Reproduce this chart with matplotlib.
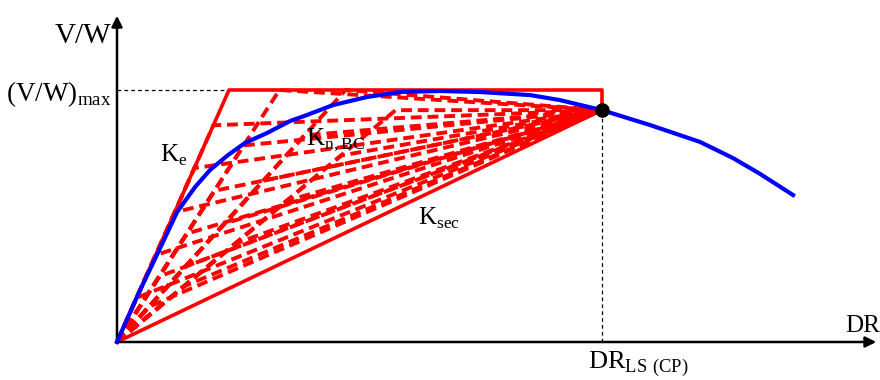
import numpy as np
import matplotlib.pyplot as plt

plt.rcParams["font.family"] = ["Liberation Serif", "DejaVu Serif"]
plt.rcParams["mathtext.fontset"] = "custom"
plt.rcParams["mathtext.rm"] = "Liberation Serif"

# normalised units: DR_LS(CP) = 1, (V/W)max = 1
dr_cp = 1.0
vw_cp = 0.92
vw_max = 1.0
dr_ke_max = 0.231  # where K_e reaches (V/W)max

# capacity curve (blue)
curve_dr = [0.0, 0.043, 0.085, 0.124, 0.161, 0.192, 0.229, 0.264, 0.309, 0.357,
            0.392, 0.445, 0.515, 0.583, 0.666, 0.748, 0.851, 0.913, 1.0,
            1.099, 1.202, 1.270, 1.326, 1.394]
curve_vw = [0.0, 0.187, 0.357, 0.516, 0.615, 0.683, 0.742, 0.790, 0.829, 0.877,
            0.901, 0.940, 0.972, 0.992, 0.996, 0.992, 0.980, 0.960, 0.920,
            0.861, 0.794, 0.730, 0.667, 0.583]

# trial bilinear backbones K_n,BC: initial stiffness / K_e and knee levels for each
stiff_ratio = [1.0, 0.69, 0.49, 0.37]
knees_1 = [0.175, 0.345, 0.515, 0.69, 0.86]
knees_2 = [0.26, 0.43, 0.60, 0.78, 1.0]
knees_3 = [0.14, 0.30, 0.47, 0.64, 0.82, 1.0]
knees_4 = [0.22, 0.39, 0.56, 0.74, 0.92]
knee_sets = [knees_1, knees_2, knees_3, knees_4]

fig = plt.figure(figsize=(8.8, 3.8), dpi=100)
ax = fig.add_axes([0, 0, 1, 1])
ax.set_xlim(-117 / 485, 763 / 485)
ax.set_ylim(-38 / 252, 342 / 252)
ax.axis("off")

red = "#ff0000"
ke = vw_max / dr_ke_max
for r, knees in zip(stiff_ratio, knee_sets):
    k = ke * r
    for vy in knees:
        dy = vy / k
        ax.plot([0, dy, dr_cp], [0, vy, vw_cp], color=red, lw=2.8,
                dashes=(2.8, 1.5), solid_capstyle="butt", zorder=2)

# bounding envelope
ax.plot([0, dr_ke_max, dr_cp, dr_cp, 0], [0, vw_max, vw_max, vw_cp, 0],
        color=red, lw=2.6, zorder=3)

ax.plot(curve_dr, curve_vw, color="#0000ff", lw=3.0, zorder=4)
ax.plot([dr_cp], [vw_cp], "o", color="black", ms=9.5, zorder=5)

# guides
ax.plot([0, dr_ke_max], [vw_max, vw_max], color="black", lw=0.9, dashes=(3, 2.5))
ax.plot([dr_cp, dr_cp], [0, vw_cp], color="black", lw=0.9, dashes=(3, 2.5))

# axes with arrows
ax.annotate("", xy=(762 / 485, 0), xytext=(-0.003, 0),
            arrowprops=dict(arrowstyle="-|>", color="black", lw=1.8, mutation_scale=16))
ax.annotate("", xy=(0, 329 / 252), xytext=(0, -0.004),
            arrowprops=dict(arrowstyle="-|>", color="black", lw=1.8, mutation_scale=16))

fs = 18
ax.text(-0.012, 1.215, "V/W", fontsize=21, ha="right", va="center")
ax.text(-0.012, 0.985, r"(V/W)$_{\mathrm{max}}$", fontsize=19.5, ha="right", va="center")
ax.text(1.574, 0.065, "DR", fontsize=fs, ha="right", va="center")
ax.text(1.075, -0.09, r"DR$_{\mathrm{LS\ (CP)}}$", fontsize=19, ha="center", va="center")
ax.text(0.088, 0.74, r"K$_{\mathrm{e}}$", fontsize=fs, ha="left", va="center")
ax.text(0.39, 0.80, r"K$_{\mathrm{n,BC}}$", fontsize=fs, ha="left", va="center")
ax.text(0.62, 0.49, r"K$_{\mathrm{sec}}$", fontsize=fs, ha="left", va="center")

fig.savefig("out.png", dpi=100)
